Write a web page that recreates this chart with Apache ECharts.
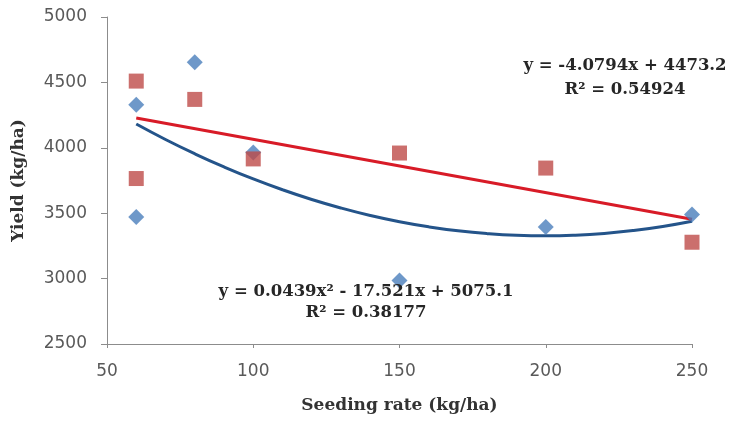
<!DOCTYPE html>
<html>
<head>
<meta charset="utf-8">
<script src="https://cdn.jsdelivr.net/npm/echarts@6/dist/echarts.min.js"></script>
<style>html,body{margin:0;padding:0;background:#fff;}#c{width:731px;height:421px;}</style>
</head>
<body>
<div id="c"></div>
<script>
// Observed points: seeding rate (kg/ha) vs yield (kg/ha)
const blueX = [60, 60, 80, 100, 150, 200, 250];
const blueY = [4330, 3470, 4655, 3965, 2985, 3395, 3490];
const redX = [60, 60, 80, 100, 150, 200, 250];
const redY = [4510, 3765, 4370, 3915, 3960, 3845, 3278];
// Fitted trend lines
const linX = [60, 250];
const linY = [4228.4, 3453.3];
const quadX = [60, 70, 80, 90, 100, 110, 120, 130, 140, 150, 160, 170, 180, 190, 200, 210, 220, 230, 240, 250];
const quadY = [4181.9, 4063.7, 3954.4, 3853.8, 3762.0, 3679.0, 3604.7, 3539.3, 3482.6, 3434.7, 3395.6, 3365.2, 3343.7, 3330.9, 3326.9, 3331.7, 3345.2, 3367.6, 3398.7, 3438.6];
const xTicks = [50, 100, 150, 200, 250];
const yTicks = [2500, 3000, 3500, 4000, 4500, 5000];
const xTitle = 'Seeding rate (kg/ha)';
const yTitle = 'Yield (kg/ha)';
const linEq = ['y = -4.0794x + 4473.2', 'R² = 0.54924'];
const quadEq = ['y = 0.0439x² - 17.521x + 5075.1', 'R² = 0.38177'];

const zip = (a, b) => a.map((v, i) => [v, b[i]]);
const chart = echarts.init(document.getElementById('c'), null, {renderer: 'canvas'});
const eqFont = 'bold 16.5px "DejaVu Serif"';
chart.setOption({
  animation: false,
  grid: {left: 107, right: 39, top: 17, bottom: 77},
  xAxis: {
    type: 'value', min: xTicks[0], max: xTicks[xTicks.length - 1], interval: 50,
    name: xTitle, nameLocation: 'middle', nameGap: 53,
    nameTextStyle: {fontFamily: 'DejaVu Serif', fontWeight: 'bold', fontSize: 17, color: '#333'},
    axisLine: {lineStyle: {color: '#8c8c8c', width: 1}},
    axisTick: {show: true, length: 4, lineStyle: {color: '#8c8c8c'}},
    axisLabel: {fontFamily: 'DejaVu Sans', fontSize: 17, color: '#595959', margin: 19, formatter: v => String(v)},
    splitLine: {show: false}
  },
  yAxis: {
    type: 'value', min: yTicks[0], max: yTicks[yTicks.length - 1], interval: 500,
    name: yTitle, nameLocation: 'middle', nameGap: 80, nameRotate: 90,
    nameTextStyle: {fontFamily: 'DejaVu Serif', fontWeight: 'bold', fontSize: 17, color: '#333'},
    axisLine: {show: true, lineStyle: {color: '#8c8c8c', width: 1}},
    axisTick: {show: true, length: 6, lineStyle: {color: '#8c8c8c'}},
    axisLabel: {fontFamily: 'DejaVu Sans', fontSize: 17, color: '#595959', margin: 20, formatter: v => String(v)},
    splitLine: {show: false}
  },
  series: [
    {type: 'line', data: zip(quadX, quadY), smooth: true, showSymbol: false, symbol: 'none',
     lineStyle: {color: '#24548a', width: 3}, z: 2},
    {type: 'line', data: zip(linX, linY), showSymbol: false, symbol: 'none',
     lineStyle: {color: '#d81b27', width: 3}, z: 3},
    {type: 'scatter', data: zip(blueX, blueY), symbol: 'diamond', symbolSize: 16,
     itemStyle: {color: '#4a7ebb'}, z: 4},
    {type: 'scatter', data: zip(redX, redY), symbol: 'rect', symbolSize: 15,
     itemStyle: {color: '#be4b48'}, z: 5}
  ],
  graphic: [
    {type: 'text', x: 625, y: 54, z: 10,
     style: {text: linEq.join('\n'), font: eqFont, fill: '#262626', align: 'center', verticalAlign: 'top', lineHeight: 24}},
    {type: 'text', x: 366, y: 281, z: 10,
     style: {text: quadEq.join('\n'), font: eqFont, fill: '#262626', align: 'center', verticalAlign: 'top', lineHeight: 21}}
  ]
});
</script>
</body>
</html>
